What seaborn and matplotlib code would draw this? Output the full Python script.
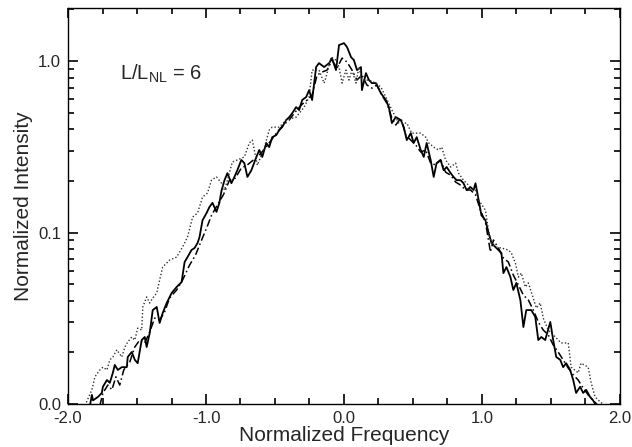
import numpy as np
import pandas as pd
import seaborn as sns
import matplotlib
matplotlib.use("Agg")
import matplotlib.pyplot as plt
from matplotlib.ticker import FixedLocator, FixedFormatter, LogLocator, NullFormatter

# solid trace
solid_x = [-1.841, -1.827, -1.819, -1.783, -1.755, -1.747, -1.718, -1.697, -1.675, -1.661,
           -1.639, -1.610, -1.574, -1.567, -1.538, -1.516, -1.495, -1.466, -1.444, -1.430,
           -1.408, -1.386, -1.357, -1.336, -1.314, -1.285, -1.249, -1.213, -1.177, -1.155,
           -1.134, -1.105, -1.083, -1.061, -1.047, -1.025, -0.996, -0.975, -0.953, -0.924,
           -0.903, -0.888, -0.866, -0.845, -0.816, -0.794, -0.773, -0.744, -0.722, -0.700,
           -0.671, -0.635, -0.614, -0.592, -0.563, -0.542, -0.520, -0.491, -0.469, -0.448,
           -0.419, -0.397, -0.375, -0.347, -0.325, -0.303, -0.274, -0.253, -0.231, -0.202,
           -0.181, -0.144, -0.108, -0.087, -0.058, -0.036, 0.000, 0.022, 0.051, 0.072,
           0.094, 0.123, 0.130, 0.159, 0.181, 0.202, 0.231, 0.267, 0.303, 0.325,
           0.347, 0.375, 0.412, 0.433, 0.455, 0.484, 0.505, 0.527, 0.556, 0.578,
           0.599, 0.628, 0.650, 0.671, 0.700, 0.722, 0.744, 0.773, 0.794, 0.816,
           0.845, 0.866, 0.888, 0.917, 0.939, 0.953, 0.975, 0.996, 1.025, 1.047,
           1.069, 1.097, 1.119, 1.141, 1.155, 1.177, 1.206, 1.227, 1.249, 1.278,
           1.300, 1.321, 1.357, 1.386, 1.408, 1.430, 1.458, 1.495, 1.516, 1.538,
           1.567, 1.588, 1.610, 1.639, 1.661, 1.682, 1.711, 1.733, 1.755, 1.783,
           1.805, 1.827]
solid_y = [0.0098, 0.0113, 0.0105, 0.0110, 0.0116, 0.0126, 0.0138, 0.0133, 0.0152, 0.0169,
           0.0158, 0.0164, 0.0164, 0.0188, 0.0201, 0.0181, 0.0173, 0.0236, 0.0246, 0.0215,
           0.0259, 0.0353, 0.0368, 0.0297, 0.0339, 0.0388, 0.0444, 0.0481, 0.0514, 0.0673,
           0.0719, 0.0791, 0.0812, 0.0869, 0.0941, 0.118, 0.130, 0.141, 0.149, 0.132,
           0.149, 0.175, 0.202, 0.222, 0.194, 0.211, 0.231, 0.265, 0.254, 0.211,
           0.231, 0.276, 0.303, 0.276, 0.333, 0.315, 0.360, 0.370, 0.396, 0.412,
           0.453, 0.471, 0.497, 0.539, 0.518, 0.593, 0.617, 0.677, 0.593, 0.923,
           0.973, 0.923, 0.973, 1.041, 0.886, 1.240, 1.273, 1.207, 1.055, 1.013,
           0.886, 0.923, 0.677, 0.851, 0.775, 0.744, 0.744, 0.651, 0.593, 0.539,
           0.435, 0.471, 0.453, 0.412, 0.346, 0.380, 0.333, 0.360, 0.303, 0.276,
           0.333, 0.265, 0.211, 0.254, 0.265, 0.231, 0.241, 0.222, 0.211, 0.202,
           0.202, 0.194, 0.177, 0.184, 0.177, 0.194, 0.155, 0.126, 0.118, 0.100,
           0.0869, 0.0823, 0.0791, 0.0759, 0.0580, 0.0629, 0.0550, 0.0462, 0.0508, 0.0404,
           0.0281, 0.0353, 0.0353, 0.0322, 0.0236, 0.0246, 0.0236, 0.0301, 0.0236, 0.0188,
           0.0181, 0.0164, 0.0173, 0.0158, 0.0138, 0.0116, 0.0126, 0.0116, 0.0121, 0.0110,
           0.0105, 0.0098]

# dash-dot trace
dashdot_x = [-1.769, -1.747, -1.711, -1.682, -1.653, -1.625, -1.596, -1.552, -1.516, -1.480,
             -1.444, -1.408, -1.372, -1.336, -1.300, -1.264, -1.213, -1.170, -1.119, -1.076,
             -1.032, -0.996, -0.960, -0.917, -0.874, -0.830, -0.787, -0.744, -0.700, -0.657,
             -0.614, -0.570, -0.527, -0.484, -0.440, -0.397, -0.354, -0.310, -0.267, -0.231,
             -0.195, -0.159, -0.123, -0.087, -0.051, -0.014, 0.022, 0.058, 0.094, 0.130,
             0.166, 0.202, 0.238, 0.274, 0.310, 0.347, 0.375, 0.412, 0.448, 0.484,
             0.520, 0.556, 0.592, 0.628, 0.664, 0.700, 0.736, 0.773, 0.809, 0.845,
             0.881, 0.917, 0.953, 0.989, 1.025, 1.047, 1.061, 1.083, 1.119, 1.155,
             1.191, 1.227, 1.264, 1.300, 1.336, 1.372, 1.408, 1.444, 1.480, 1.516,
             1.552, 1.588, 1.625, 1.661, 1.697, 1.733, 1.769, 1.805, 1.841]
dashdot_y = [0.0098, 0.0116, 0.0129, 0.0121, 0.0144, 0.0129, 0.0158, 0.0176, 0.0215, 0.0236,
             0.0227, 0.0263, 0.0317, 0.0309, 0.0344, 0.0415, 0.0462, 0.0528, 0.0646, 0.0739,
             0.0904, 0.106, 0.126, 0.145, 0.166, 0.202, 0.208, 0.238, 0.248, 0.265,
             0.283, 0.311, 0.346, 0.385, 0.424, 0.453, 0.504, 0.554, 0.593, 0.634,
             0.829, 0.863, 0.886, 1.013, 0.910, 1.041, 0.987, 0.886, 0.775, 0.829,
             0.725, 0.696, 0.725, 0.634, 0.569, 0.465, 0.424, 0.465, 0.370, 0.346,
             0.324, 0.295, 0.303, 0.254, 0.248, 0.265, 0.225, 0.216, 0.197, 0.189,
             0.177, 0.177, 0.166, 0.135, 0.115, 0.0904, 0.0770, 0.0904, 0.0812, 0.0710,
             0.0673, 0.0565, 0.0494, 0.0432, 0.0404, 0.0353, 0.0301, 0.0270, 0.0253, 0.0221,
             0.0201, 0.0181, 0.0162, 0.0148, 0.0138, 0.0124, 0.0113, 0.0105, 0.0098]

# dotted trace
dotted_x = [-1.877, -1.827, -1.805, -1.769, -1.747, -1.718, -1.697, -1.675, -1.646, -1.610,
            -1.588, -1.567, -1.538, -1.516, -1.495, -1.466, -1.458, -1.430, -1.408, -1.386,
            -1.357, -1.336, -1.314, -1.264, -1.213, -1.170, -1.134, -1.097, -1.061, -1.025,
            -0.989, -0.960, -0.924, -0.888, -0.866, -0.845, -0.809, -0.773, -0.722, -0.686,
            -0.664, -0.628, -0.578, -0.542, -0.520, -0.469, -0.419, -0.347, -0.289, -0.253,
            -0.231, -0.181, -0.144, -0.130, -0.094, -0.058, -0.036, -0.014, 0.014, 0.036,
            0.058, 0.087, 0.108, 0.130, 0.181, 0.231, 0.267, 0.303, 0.347, 0.397,
            0.455, 0.491, 0.556, 0.592, 0.614, 0.650, 0.686, 0.708, 0.736, 0.773,
            0.809, 0.830, 0.866, 0.917, 0.953, 0.975, 1.025, 1.047, 1.069, 1.097,
            1.141, 1.191, 1.213, 1.242, 1.264, 1.285, 1.314, 1.336, 1.357, 1.394,
            1.422, 1.444, 1.480, 1.531, 1.574, 1.625, 1.646, 1.697, 1.718, 1.769,
            1.791, 1.819, 1.856, 1.892]
dotted_y = [0.0098, 0.0121, 0.0144, 0.0158, 0.0164, 0.0158, 0.0181, 0.0188, 0.0207, 0.0188,
            0.0215, 0.0230, 0.0246, 0.0236, 0.0277, 0.0270, 0.0368, 0.0421, 0.0388, 0.0415,
            0.0444, 0.0528, 0.0629, 0.0691, 0.0719, 0.0823, 0.0941, 0.123, 0.130, 0.161,
            0.170, 0.202, 0.211, 0.194, 0.177, 0.202, 0.258, 0.265, 0.276, 0.333,
            0.346, 0.247, 0.311, 0.396, 0.412, 0.412, 0.453, 0.471, 0.539, 0.617,
            0.886, 0.886, 0.744, 0.807, 1.055, 1.013, 0.923, 0.744, 0.886, 0.775,
            0.886, 0.744, 0.923, 0.775, 0.775, 0.744, 0.705, 0.617, 0.518, 0.435,
            0.435, 0.380, 0.380, 0.360, 0.333, 0.315, 0.303, 0.315, 0.265, 0.241,
            0.254, 0.222, 0.202, 0.184, 0.177, 0.155, 0.135, 0.103, 0.0869, 0.0823,
            0.0812, 0.0791, 0.0759, 0.0664, 0.0550, 0.0580, 0.0481, 0.0508, 0.0450, 0.0363,
            0.0388, 0.0317, 0.0270, 0.0246, 0.0227, 0.0227, 0.0164, 0.0152, 0.0173, 0.0164,
            0.0133, 0.0110, 0.0103, 0.0098]

x_ticks = [-2.0, -1.0, 0.0, 1.0, 2.0]
x_labels = ["-2.0", "-1.0", "0.0", "1.0", "2.0"]
y_ticks = [0.01, 0.1, 1.0]
y_labels = ["0.0", "0.1", "1.0"]

sns.set_style("ticks")
plt.rcParams['font.family'] = ['Liberation Sans', 'DejaVu Sans']
plt.rcParams['mathtext.fontset'] = 'custom'
plt.rcParams['mathtext.rm'] = 'Liberation Sans'

fig = plt.figure(figsize=(6.32, 4.47), dpi=100)
ax = fig.add_axes([0.1076, 0.0962, 0.8734, 0.8859])

sns.lineplot(x=solid_x, y=solid_y, ax=ax, color="black", lw=1.3,
             sort=False, estimator=None)
sns.lineplot(x=dashdot_x, y=dashdot_y, ax=ax, color="black", lw=1.1,
             linestyle=(0, (5, 2, 1, 2)), sort=False, estimator=None)
sns.lineplot(x=dotted_x, y=dotted_y, ax=ax, color="#333333", lw=1.0,
             linestyle=(0, (1, 1.5)), sort=False, estimator=None)

ax.set_yscale("log")
ax.set_xlim(-2.0, 2.0)
ax.set_ylim(0.01, 2.04)

ax.xaxis.set_major_locator(FixedLocator(x_ticks))
ax.xaxis.set_major_formatter(FixedFormatter(x_labels))
ax.xaxis.set_minor_locator(FixedLocator(np.arange(-2.0, 2.01, 0.25)))
ax.yaxis.set_major_locator(FixedLocator(y_ticks))
ax.yaxis.set_major_formatter(FixedFormatter(y_labels))
ax.yaxis.set_minor_locator(LogLocator(base=10, subs=np.arange(2, 10)))
ax.yaxis.set_minor_formatter(NullFormatter())

ax.tick_params(which="both", direction="in", top=True, right=True,
               bottom=True, left=True, color="black", width=1.2)
ax.tick_params(which="major", length=7, labelsize=12, pad=5)
ax.tick_params(which="minor", length=4)
for sp in ax.spines.values():
    sp.set_color("black")
    sp.set_linewidth(1.0)

ax.set_xlabel("Normalized Frequency", fontsize=15, labelpad=0)
ax.set_ylabel("Normalized Intensity", fontsize=15, labelpad=4)

ax.text(-1.625, 0.775, r"L/L$_{\mathrm{NL}}$ = 6", fontsize=14.5, va="baseline")

fig.savefig("out.png", dpi=100)
